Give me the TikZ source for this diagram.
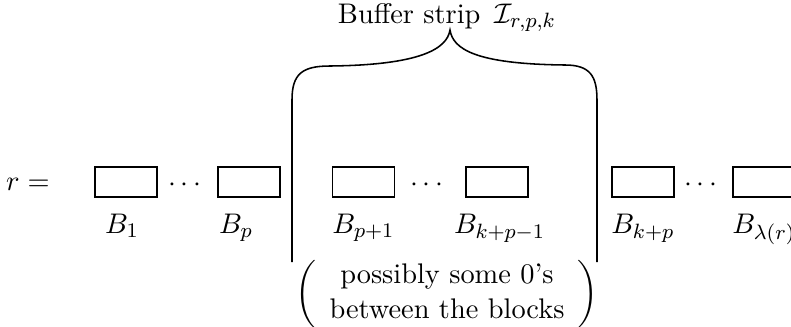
\documentclass[11pt,tikz,border=0pt]{standalone}
\usepackage{amsmath,amssymb}
\usepackage{xcolor}
\usepackage{tikz}
\usetikzlibrary{positioning}

\begin{document}
\begin{tikzpicture}[x=0.386pt, y=0.386pt, node distance=17.7pt,
    block/.style={rectangle, draw, line width=0.5pt, minimum width=23.9pt, minimum height=11.6pt, inner sep=0pt},
    blockname/.style={text height=7.5pt, text depth=3pt, inner sep=0pt},
    dots/.style={inner sep=0pt},
    strip/.style={line width=0.6pt}]

    \useasboundingbox (0,0) rectangle (791,326);
    \clip (0,0) rectangle (791,326);

    \node (req) at (28,142) {$r =$};

    \node[block] (b1) at (126,144) {};
    \node[block] (bp) at (249,144) {};
    \node[block] (bp1) at (363.5,144) {};
    \node[block] (bkp1) at (497,144) {};
    \node[block] (bkp) at (643,144) {};
    \node[block] (blam) at (764,144) {};

    \node[dots] (d1) at (187,141) {$\cdots$};
    \node[dots] (d2) at (429,141) {$\cdots$};
    \node[dots] (d3) at (703,141) {$\cdots$};

    \node[blockname, below of=b1, xshift=-1.5pt] (nb1) {$B_1$};
    \node[blockname, below of=bp, xshift=-5pt] (nbp) {$B_p$};
    \node[blockname, below of=bp1] (nbp1) {$B_{p+1}$};
    \node[blockname, below of=bkp1, xshift=1pt] (nbkp1) {$B_{k+p-1}$};
    \node[blockname, below of=bkp] (nbkp) {$B_{k+p}$};
    \node[blockname, below of=blam] (nblam) {$B_{\lambda(r)}$};

    \coordinate (tip) at (450,296);
    \draw[strip] (292,64) -- (292,226) .. controls (292,252) and (302,260) .. (330,260)
        .. controls (420,261) and (447,277) .. (tip)
        .. controls (453,277) and (475,262) .. (565,261)
        .. controls (590,261) and (597,250) .. (597,226) -- (597,64);

    \node[anchor=base, inner sep=0pt] (title) at (447,303) {Buffer strip $\,\mathcal{I}_{r,p,k}$};
    \node[inner sep=0pt] (note) at (447,32) {$\left(\begin{array}{c}\text{possibly some 0's}\\ \text{between the blocks}\end{array}\right)$};
\end{tikzpicture}
\end{document}
